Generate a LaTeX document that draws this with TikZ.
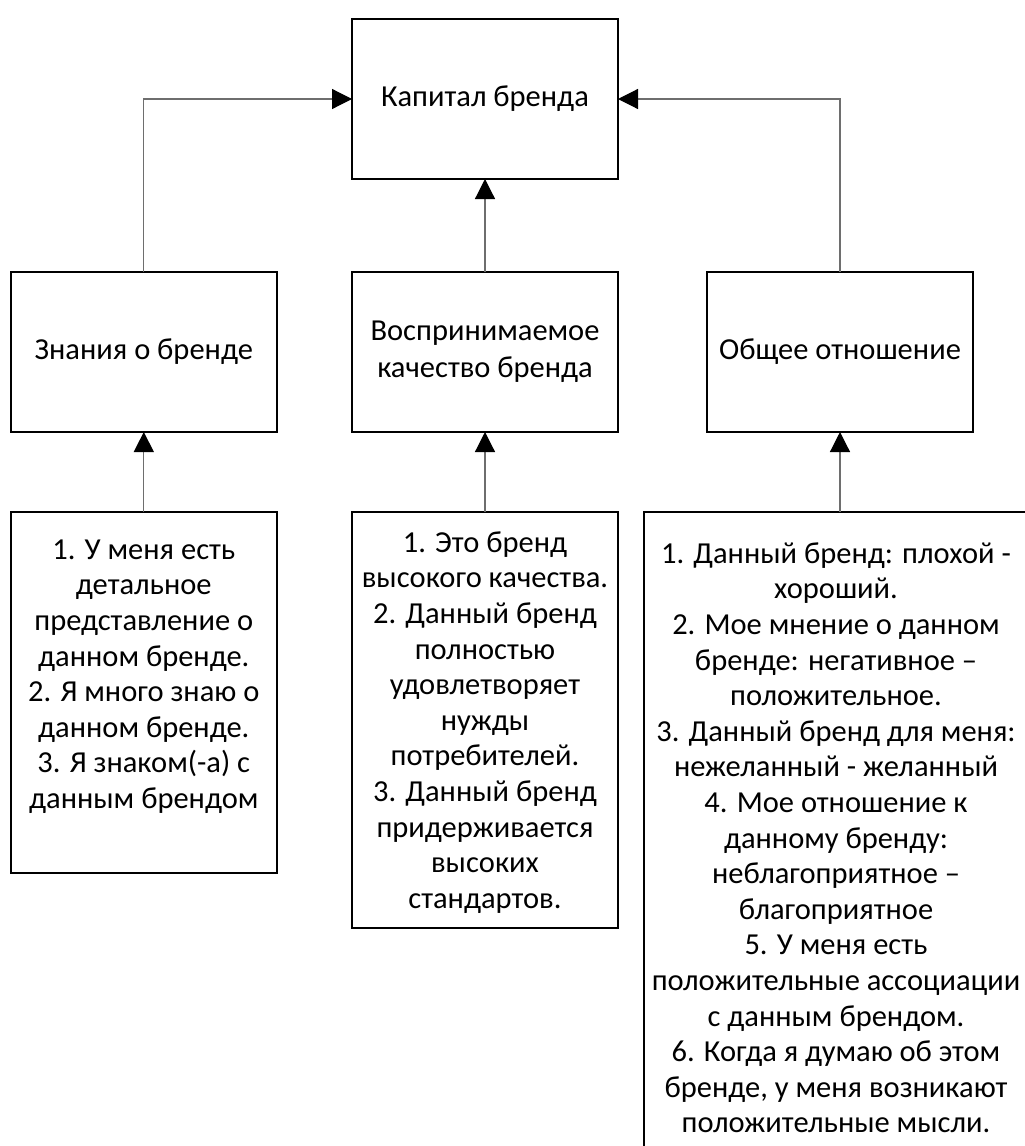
\documentclass[tikz,border=0pt]{standalone}
\usepackage{fontspec}
\setmainfont{Carlito}
\usetikzlibrary{arrows.meta}
\definecolor{linegray}{RGB}{110,110,110}
\begin{document}
\begin{tikzpicture}[x=1pt,y=-1pt,
  box/.style={draw=black, line width=2.2pt, inner sep=0pt, outer sep=0pt, align=center,
    font=\fontsize{30.5}{37}\selectfont},
  txt/.style={inner sep=0pt, align=center, anchor=north, font=\fontsize{30.5}{35.6}\selectfont},
  conn/.style={draw=linegray, line width=1.2pt, -{Triangle[length=20pt,width=20pt,color=black]}}]
\useasboundingbox (0,0) rectangle (1025,1146);
\fill[white] (0,0) rectangle (1025,1146);

\node[box, minimum width=266pt, minimum height=160pt] (cap) at (485,99) {Капитал бренда};
\node[box, minimum width=266pt, minimum height=160pt] (zn) at (143.8,352) {Знания о бренде};
\node[box, minimum width=266pt, minimum height=160pt] (vk) at (485,352) {Воспринимаемое\\качество бренда};
\node[box, minimum width=266pt, minimum height=160pt] (oo) at (840,352) {Общее отношение};

\node[box, minimum width=266pt, minimum height=361pt] (zl) at (143.8,692.5) {};
\node[box, minimum width=266pt, minimum height=416pt] (vl) at (485,720) {};
\node[box, minimum width=392pt, minimum height=700pt] (ol) at (840,862) {};

\node[txt] (zlt) at (143.8,534) {\rule{0pt}{25pt}1. У меня есть\\детальное\\представление о\\данном бренде.\\2. Я много знаю о\\данном бренде.\\3. Я знаком(-а) с\\данным брендом};
\node[txt] (vlt) at (485,527) {\rule{0pt}{25pt}1. Это бренд\\высокого качества.\\2. Данный бренд\\полностью\\удовлетворяет\\нужды\\потребителей.\\3. Данный бренд\\придерживается\\высоких\\стандартов.};
\node[txt] (olt) at (836,538) {\rule{0pt}{25pt}1. Данный бренд: плохой -\\хороший.\\2. Мое мнение о данном\\бренде: негативное –\\положительное.\\3. Данный бренд для меня:\\нежеланный - желанный\\4. Мое отношение к\\данному бренду:\\неблагоприятное –\\благоприятное\\5. У меня есть\\положительные ассоциации\\с данным брендом.\\6. Когда я думаю об этом\\бренде, у меня возникают\\положительные мысли.};

\draw[conn] (zn.north) |- (cap.west);
\draw[conn] (vk.north) -- (cap.south);
\draw[conn] (oo.north) |- (cap.east);
\draw[conn] (zl.north) -- (zn.south);
\draw[conn] (vl.north) -- (vk.south);
\draw[conn] (ol.north) -- (oo.south);
\end{tikzpicture}
\end{document}
